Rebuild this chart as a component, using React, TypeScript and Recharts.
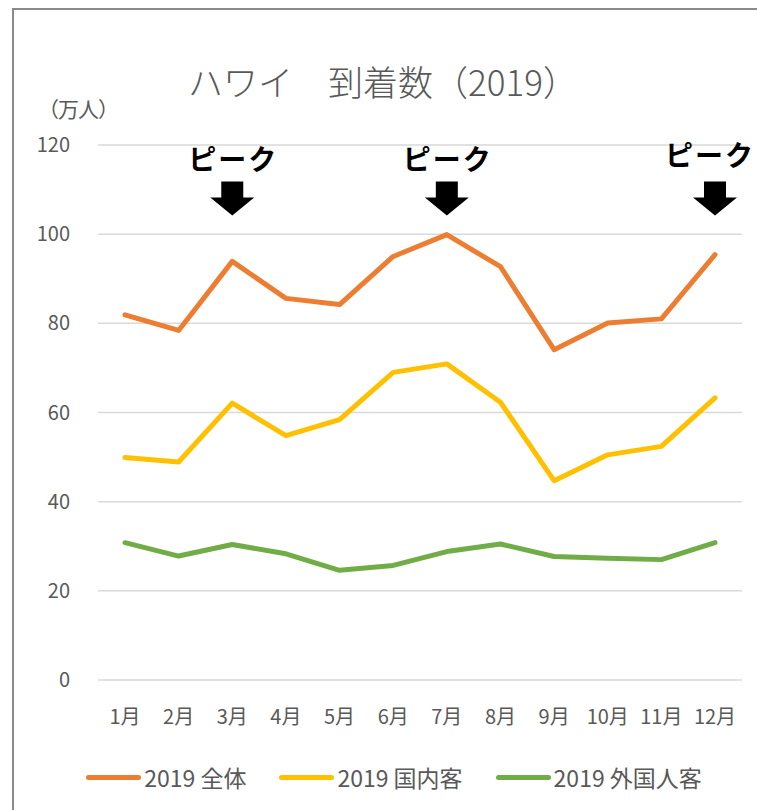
import {
  CartesianGrid,
  Legend,
  Line,
  LineChart,
  ReferenceDot,
  XAxis,
  YAxis,
} from "recharts";

const months = ["1月", "2月", "3月", "4月", "5月", "6月", "7月", "8月", "9月", "10月", "11月", "12月"];
const total = [81.9, 78.4, 93.9, 85.6, 84.2, 95.0, 99.9, 92.7, 74.1, 80.1, 81.0, 95.4];
const domestic = [49.9, 48.9, 62.1, 54.8, 58.4, 69.0, 70.9, 62.3, 44.7, 50.5, 52.4, 63.3];
const foreign = [30.8, 27.8, 30.4, 28.3, 24.6, 25.7, 28.8, 30.5, 27.7, 27.3, 27.0, 30.8];
const yTicks = [0, 20, 40, 60, 80, 100, 120];
const peakMonths = ["3月", "7月", "12月"];

const data = months.map((m, i) => ({
  month: m,
  total: total[i],
  domestic: domestic[i],
  foreign: foreign[i],
}));

const FONT = '"Noto Sans CJK JP", "Noto Sans", sans-serif';
const GRAY = "#595959";

function PeakMark({ cx, cy, last }: { cx?: number; cy?: number; last?: boolean }) {
  if (cx == null || cy == null) return null;
  // the right-most label sits a bit higher and is pushed against the edge
  const tx = last ? cx - 5 : cx + 1;
  const ty = last ? cy - 49 : cy - 45;
  return (
    <g>
      <text
        x={tx}
        y={ty}
        textAnchor="middle"
        fontSize={28}
        fontWeight="bold"
        letterSpacing={2}
        fontFamily={FONT}
        fill="#000"
      >
        ピーク
      </text>
      <polygon
        points={`${cx - 11},${cy - 34} ${cx + 11},${cy - 34} ${cx + 11},${cy - 18} ${cx + 22},${cy - 18} ${cx},${cy} ${cx - 22},${cy - 18} ${cx - 11},${cy - 18}`}
        fill="#000"
      />
    </g>
  );
}

function LegendContent(props: any) {
  const items = props.payload || [];
  return (
    <div
      style={{
        display: "flex",
        justifyContent: "center",
        gap: 33,
        fontFamily: FONT,
        fontSize: 23,
        color: GRAY,
        paddingLeft: 46,
      }}
    >
      {items.map((it: any) => (
        <span key={it.value} style={{ display: "flex", alignItems: "center" }}>
          <span
            style={{
              display: "inline-block",
              width: 55,
              height: 5,
              borderRadius: 3,
              background: it.color,
              marginRight: 3,
            }}
          />
          <span>{it.value}</span>
        </span>
      ))}
    </div>
  );
}

export default function App() {
  return (
    <div
      style={{
        position: "absolute",
        left: 0,
        top: 0,
        width: 757,
        height: 810,
        background: "#fff",
        overflow: "hidden",
        fontFamily: FONT,
      }}
    >
      <div
        style={{
          position: "absolute",
          left: 12,
          top: 8,
          width: 800,
          height: 900,
          borderTop: "2px solid #8a8a8a",
          borderLeft: "2px solid #8a8a8a",
        }}
      />
      <div
        style={{
          position: "absolute",
          left: 0,
          width: 766,
          top: 58,
          textAlign: "center",
          fontSize: 35,
          fontWeight: 300,
          color: GRAY,
          lineHeight: "46px",
        }}
      >
        ハワイ　到着数（2019）
      </div>
      <div
        style={{
          position: "absolute",
          left: 38,
          top: 93,
          fontSize: 21,
          color: GRAY,
          letterSpacing: -1,
        }}
      >
        （万人）
      </div>
      <div style={{ position: "absolute", left: 0, top: 0 }}>
        <LineChart
          width={757}
          height={810}
          data={data}
          margin={{ top: 145, right: 15, bottom: 10, left: 0 }}
        >
          <CartesianGrid vertical={false} stroke="#d9d9d9" strokeWidth={1.5} />
          <XAxis
            dataKey="month"
            axisLine={false}
            tickLine={false}
            tickSize={0}
            tickMargin={30}
            height={80}
            interval={0}
            padding={{ left: 27, right: 27 }}
            tick={{ fill: GRAY, fontSize: 20, fontFamily: FONT }}
          />
          <YAxis
            domain={[0, 120]}
            ticks={yTicks}
            axisLine={false}
            tickLine={false}
            tickSize={0}
            tickMargin={28}
            width={98}
            tick={{ fill: GRAY, fontSize: 20, fontFamily: FONT }}
          />
          <Legend verticalAlign="bottom" height={40} content={<LegendContent />} />
          <Line
            type="linear"
            dataKey="total"
            name="2019 全体"
            stroke="#ED7D31"
            strokeWidth={5}
            strokeLinecap="round"
            strokeLinejoin="round"
            dot={false}
            activeDot={false}
            isAnimationActive={false}
          />
          <Line
            type="linear"
            dataKey="domestic"
            name="2019 国内客"
            stroke="#FFC000"
            strokeWidth={5}
            strokeLinecap="round"
            strokeLinejoin="round"
            dot={false}
            activeDot={false}
            isAnimationActive={false}
          />
          <Line
            type="linear"
            dataKey="foreign"
            name="2019 外国人客"
            stroke="#70AD47"
            strokeWidth={5}
            strokeLinecap="round"
            strokeLinejoin="round"
            dot={false}
            activeDot={false}
            isAnimationActive={false}
          />
          {peakMonths.map((m, i) => (
            <ReferenceDot
              key={m}
              x={m}
              y={104.2}
              r={0}
              shape={(p: any) => (
                <PeakMark cx={p.cx} cy={p.cy} last={i === peakMonths.length - 1} />
              )}
            />
          ))}
        </LineChart>
      </div>
    </div>
  );
}
